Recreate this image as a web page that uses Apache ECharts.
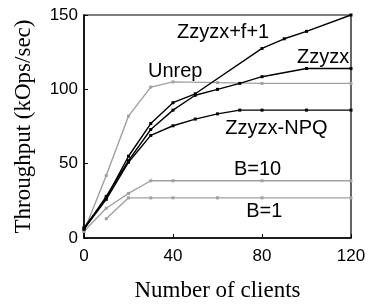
<!DOCTYPE html>
<html>
<head>
<meta charset="utf-8">
<script src="https://cdn.jsdelivr.net/npm/echarts@6/dist/echarts.min.js"></script>
<style>
* { margin: 0; padding: 0; }
body { background: white; }
</style>
</head>
<body>
<div id="main" style="width:370px;height:307px;"></div>
<script>
// number of clients / throughput (kOps/sec)
var zzyzxF1 = [[0, 7], [10, 27], [20, 55], [30, 77], [40, 91], [50, 97], [80, 127.5], [90, 134], [100, 139], [120, 150]];
var zzyzx = [[0, 6], [10, 28], [20, 52], [30, 73], [40, 86], [50, 96], [60, 100], [70, 104], [80, 108.5], [100, 114], [120, 114]];
var zzyzxNpq = [[0, 6], [10, 26], [20, 51], [30, 69], [40, 75.5], [50, 80], [60, 83.5], [70, 86], [80, 86], [100, 86], [120, 86]];
var unrep = [[0, 4.5], [10, 42], [20, 82], [30, 101.5], [40, 105], [60, 104.5], [80, 104], [120, 104]];
var b10 = [[0, 4.5], [10, 20], [20, 30], [30, 38.5], [40, 38.5], [80, 38.5], [120, 38.5]];
var b1 = [[10, 13], [20, 27], [30, 27], [40, 27], [60, 27], [80, 27], [120, 27]];

var xTicks = [0, 40, 80, 120];
var yTicks = [0, 50, 100, 150];

// label name, anchor [clients, throughput]
var labels = [
  ["Zzyzx+f+1", [62.5, 138.5]],
  ["Zzyzx", [107.5, 121.5]],
  ["Unrep", [41, 112]],
  ["Zzyzx-NPQ", [86.5, 74]],
  ["B=10", [78, 46]],
  ["B=1", [81, 17.5]]
];

var chart = echarts.init(document.getElementById("main"));

function line(name, data, color, width) {
  return {
    name: name,
    type: "line",
    data: data,
    symbol: "rect",
    symbolSize: 3,
    animation: false,
    itemStyle: { color: color },
    lineStyle: { color: color, width: width },
    z: color == "#000" ? 3 : 2
  };
}

var series = [
  line("Unrep", unrep, "#a0a0a0", 1.4),
  line("B=10", b10, "#a0a0a0", 1.4),
  line("B=1", b1, "#a0a0a0", 1.4),
  line("Zzyzx+f+1", zzyzxF1, "#000", 1.4),
  line("Zzyzx", zzyzx, "#000", 1.4),
  line("Zzyzx-NPQ", zzyzxNpq, "#000", 1.4)
];

// curve names written inside the plot
series[0].markPoint = {
  symbol: "rect",
  symbolSize: 1,
  itemStyle: { color: "rgba(0,0,0,0)" },
  animation: false,
  data: labels.map(function (l) {
    return {
      coord: l[1],
      label: {
        show: true,
        formatter: l[0],
        position: "inside",
        color: "#000",
        fontSize: 20,
        fontFamily: "Liberation Sans"
      }
    };
  })
};

chart.setOption({
  animation: false,
  grid: {
    left: 84, right: 19, top: 15, bottom: 69,
    show: true,
    borderColor: "#000",
    borderWidth: 1.2,
    backgroundColor: "transparent"
  },
  xAxis: {
    type: "value",
    min: 0, max: 120, interval: 40,
    name: "Number of clients",
    nameLocation: "middle",
    nameGap: 41,
    nameTextStyle: { fontFamily: "Liberation Serif", fontSize: 23, color: "#000" },
    axisLine: { lineStyle: { color: "#000", width: 1.5 } },
    axisTick: { inside: true, length: 4, lineStyle: { color: "#000" } },
    axisLabel: { color: "#000", fontSize: 17, fontFamily: "Liberation Sans", margin: 10,
      formatter: function (v) { return xTicks.indexOf(v) >= 0 ? v : ""; } },
    splitLine: { show: false }
  },
  yAxis: {
    type: "value",
    min: 0, max: 150, interval: 50,
    name: "Throughput (kOps/sec)",
    nameLocation: "middle",
    nameGap: 49,
    nameTextStyle: { fontFamily: "Liberation Serif", fontSize: 23, color: "#000" },
    axisLine: { show: true, lineStyle: { color: "#000", width: 1.5 } },
    axisTick: { show: true, inside: true, length: 4, lineStyle: { color: "#000" } },
    axisLabel: { color: "#000", fontSize: 17, fontFamily: "Liberation Sans", margin: 6,
      formatter: function (v) { return yTicks.indexOf(v) >= 0 ? v : ""; } },
    splitLine: { show: false }
  },
  series: series
});
</script>
</body>
</html>
